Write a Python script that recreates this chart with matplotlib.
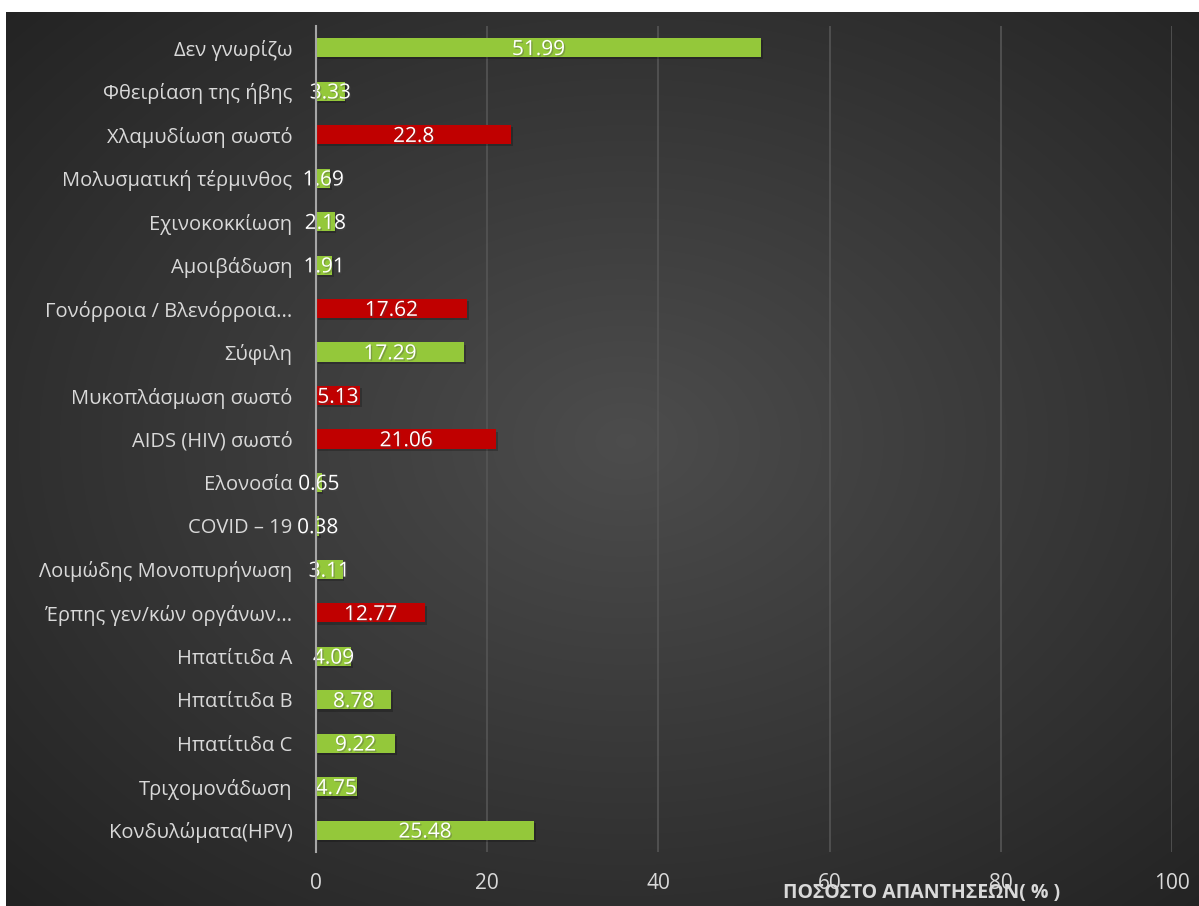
import numpy as np
import matplotlib.pyplot as plt
from matplotlib import patheffects as pe

plt.rcParams['font.family'] = ['Open Sans', 'DejaVu Sans']

categories = ['Δεν γνωρίζω', 'Φθειρίαση της ήβης', 'Χλαμυδίωση σωστό',
              'Μολυσματική τέρμινθος', 'Εχινοκοκκίωση', 'Αμοιβάδωση',
              'Γονόρροια / Βλενόρροια...', 'Σύφιλη', 'Μυκοπλάσμωση σωστό',
              'AIDS (HIV) σωστό', 'Ελονοσία', 'COVID – 19',
              'Λοιμώδης Μονοπυρήνωση', 'Έρπης γεν/κών οργάνων...',
              'Ηπατίτιδα Α', 'Ηπατίτιδα Β', 'Ηπατίτιδα C', 'Τριχομονάδωση',
              'Κονδυλώματα(HPV)']
values = [51.99, 3.33, 22.8, 1.69, 2.18, 1.91, 17.62, 17.29, 5.13, 21.06,
          0.65, 0.38, 3.11, 12.77, 4.09, 8.78, 9.22, 4.75, 25.48]
correct = [False, False, True, False, False, False, True, False, True, True,
           False, False, False, True, False, False, False, False, False]
labels = ['51.99', '3.33', '22.8', '1.69', '2.18', '1.91', '17.62', '17.29',
          '5.13', '21.06', '0.65', '0.38', '3.11', '12.77', '4.09', '8.78',
          '9.22', '4.75', '25.48']

W, H = 1199, 906
fig = plt.figure(figsize=(W / 100, H / 100), dpi=100)
fig.patch.set_facecolor('white')

# dark radial background
bg = fig.add_axes([6 / W, 0, 1 - 6 / W, 1 - 12 / H])
bg.set_axis_off()
yy, xx = np.mgrid[0:1:300j, 0:1:400j]
r = np.sqrt(((xx - 0.52) / 0.75) ** 2 + ((yy - 0.48) / 0.75) ** 2)
shade = np.clip(0.30 - 0.17 * r, 0.13, 0.30)
bg.imshow(np.dstack([shade] * 3), aspect='auto', extent=[0, 1, 0, 1],
          interpolation='bicubic')

ax = fig.add_axes([316 / W, 1 - 852 / H, 856 / W, 826 / H])
ax.set_facecolor('none')

y = np.arange(len(categories))
colors = ['#C00000' if c else '#94C83A' for c in correct]

# soft shadow then bars
ax.barh(y + 0.05, values, height=0.44, left=0.2, color='black', alpha=0.22,
        zorder=2)
ax.barh(y, values, height=0.44, color=colors, zorder=3)

for yi, v, lab in zip(y, values, labels):
    ax.text(v / 2, yi + 0.04, lab, ha='center', va='center', color='white',
            fontsize=15, zorder=4,
            path_effects=[pe.withSimplePatchShadow(offset=(1, -1),
                                                   alpha=0.35)])

ax.set_xlim(0, 100)
ax.set_ylim(len(categories) - 0.5, -0.5)
ax.set_xticks(np.arange(0, 101, 20))
ax.set_yticks(y)
ax.set_yticklabels(categories)
ax.tick_params(axis='y', length=0, pad=17, labelsize=14.5, colors='#d9d9d9')
ax.tick_params(axis='x', length=0, pad=15, labelsize=15, colors='#d9d9d9')
ax.grid(axis='x', color='#555555', linewidth=1.2, zorder=0)
ax.set_axisbelow(True)
for s in ['top', 'right', 'bottom']:
    ax.spines[s].set_visible(False)
ax.spines['left'].set_color('#a6a6a6')
ax.spines['left'].set_linewidth(1.5)
ax.spines['left'].set_zorder(5)

fig.text(922 / W, 1 - 893 / H, 'ΠΟΣΟΣΤΟ ΑΠΑΝΤΗΣΕΩΝ( % )', ha='center',
         va='center', color='#d9d9d9', fontsize=14, fontweight='bold')

fig.savefig('out.png', dpi=100)
